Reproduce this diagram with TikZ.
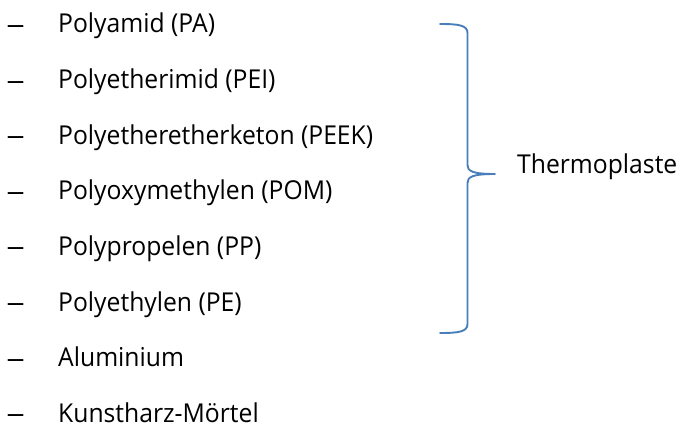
\documentclass[tikz,border=0pt]{standalone}
\usepackage{fontspec}
\setmainfont{Open Sans}[FakeStretch=0.95]
\newfontfamily\dashfont{Open Sans Light}
\definecolor{braceblue}{HTML}{4A7EBB}
\begin{document}
\begin{tikzpicture}[x=1pt,y=-1pt,
  item/.style={anchor=base west,inner sep=0pt,text depth=0pt,font=\fontsize{26}{30}\selectfont},
  bullet/.style={anchor=base west,inner sep=0pt,text depth=0pt,xscale=1.5,font=\fontsize{26}{30}\selectfont},
  bracestyle/.style={draw=braceblue,line width=1.9pt,line cap=round,line join=round}]
\useasboundingbox (0,0) rectangle (679,425);
\foreach \t [count=\i from 0] in {Polyamid (PA),Polyetherimid (PEI),Polyetheretherketon (PEEK),Polyoxymethylen (POM),Polypropelen (PP),Polyethylen (PE),Aluminium,Kunstharz-Mörtel}{
  \node[bullet] (d\i) at (6,33.5+55.6*\i) {–};
  \node[item] (t\i) at (58,33+55.6*\i) {\t};
}
\node[item] (thermo) at (517,173) {Thermoplaste};
\coordinate (btop) at (440,24);
\coordinate (btip) at (495,174);
\coordinate (bbot) at (440,333);
\draw[bracestyle] (btop) .. controls (458,24) and (467.5,25) .. (467.5,33)
  -- (467.5,165) .. controls (467.5,171) and (472,174) .. (btip)
  .. controls (472,174) and (467.5,177) .. (467.5,183)
  -- (467.5,324) .. controls (467.5,332) and (458,333) .. (bbot);
\end{tikzpicture}
\end{document}
